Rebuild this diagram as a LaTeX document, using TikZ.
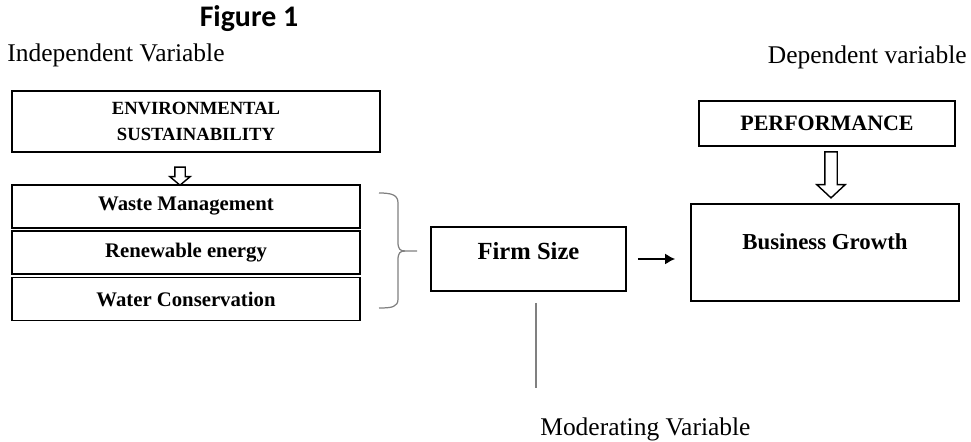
\documentclass[tikz,border=0pt]{standalone}
\usepackage{fontspec}
\setmainfont{Liberation Serif}
\newfontfamily\figfont{Carlito}
\usetikzlibrary{shapes,arrows.meta,positioning}

\begin{document}
\begin{tikzpicture}[
    node distance=0.03cm,
    varlabel/.style={font=\fontsize{14.5}{17}\selectfont, inner sep=0pt},
    box/.style={rectangle, draw, line width=1pt, inner sep=2pt, font=\bfseries\fontsize{11.8}{14}\selectfont},
    itembox/.style={box, minimum width=6.96cm, minimum height=0.86cm},
    hollow/.style={single arrow, draw, line width=0.8pt, fill=white, inner xsep=0pt, rotate=-90},
    flow/.style={-{Latex[length=2mm,width=2.2mm]}, line width=0.8pt},
    faint/.style={draw=gray, line width=0.7pt}
]
\useasboundingbox (0,0) rectangle (19.42,-8.84);

% headings
\node[anchor=base, font=\figfont\bfseries\fontsize{17}{20}\selectfont, inner sep=0pt] (fig) at (4.98,-0.534) {Figure 1};
\node[varlabel, anchor=base west] (indep) at (0.14,-1.24) {Independent Variable};
\node[varlabel, anchor=base east] (dep) at (19.34,-1.28) {Dependent variable};
\node[varlabel, anchor=base west] (moder) at (10.8,-8.7) {Moderating Variable};

% independent side
\node[box, minimum width=7.36cm, minimum height=1.22cm, align=center, font=\bfseries\fontsize{10.6}{14.8}\selectfont] (env) at (3.92,-2.43) {ENVIRONMENTAL\\SUSTAINABILITY};
\node[hollow, inner ysep=0.09cm, minimum height=0.36cm, minimum width=0.4cm, single arrow head extend=0.1cm, single arrow tip angle=100] (envarrow) at (3.6,-3.48) {};

\node[itembox] (waste) at (3.72,-4.13) {Waste Management};
\node[itembox, below=of waste] (renew) {Renewable energy};
\node[itembox, below=of renew] (water) {Water Conservation};

% brace
\draw[faint] (7.58,-3.86) .. controls (7.84,-3.86) and (7.96,-3.9) .. (7.96,-4.06) -- (7.96,-4.84)
    .. controls (7.96,-4.98) and (8.0,-5.02) .. (8.1,-5.02) -- (8.34,-5.02);
\draw[faint] (8.1,-5.02) .. controls (8.0,-5.02) and (7.96,-5.06) .. (7.96,-5.2) -- (7.96,-5.98)
    .. controls (7.96,-6.14) and (7.84,-6.16) .. (7.58,-6.16);

% moderator
\node[box, minimum width=3.9cm, minimum height=1.28cm, font=\bfseries\fontsize{14}{16}\selectfont, text height=0.33cm, text depth=0.29cm] (firm) at (10.57,-5.18) {Firm Size};
\coordinate (mtop) at (10.72,-6.06);
\coordinate (mbot) at (10.72,-7.76);
\draw[faint] (mtop) -- (mbot);

% dependent side
\node[box, minimum width=5.12cm, minimum height=0.9cm, font=\bfseries\fontsize{12.5}{15}\selectfont] (perf) at (16.54,-2.47) {PERFORMANCE};
\node[hollow, inner ysep=0.11cm, minimum height=0.92cm, minimum width=0.56cm, single arrow head extend=0.16cm, single arrow tip angle=94] (perfarrow) at (16.62,-3.44) {};
\node[box, minimum width=5.36cm, minimum height=1.94cm, font=\bfseries\fontsize{13}{15}\selectfont, text height=0.3cm, text depth=0.4cm] (growth) at (16.5,-5.05) {Business Growth};

\draw[flow, shorten <=0.22cm, shorten >=0.3cm] (firm.east) -- (firm.east -| growth.west);

\end{tikzpicture}
\end{document}
